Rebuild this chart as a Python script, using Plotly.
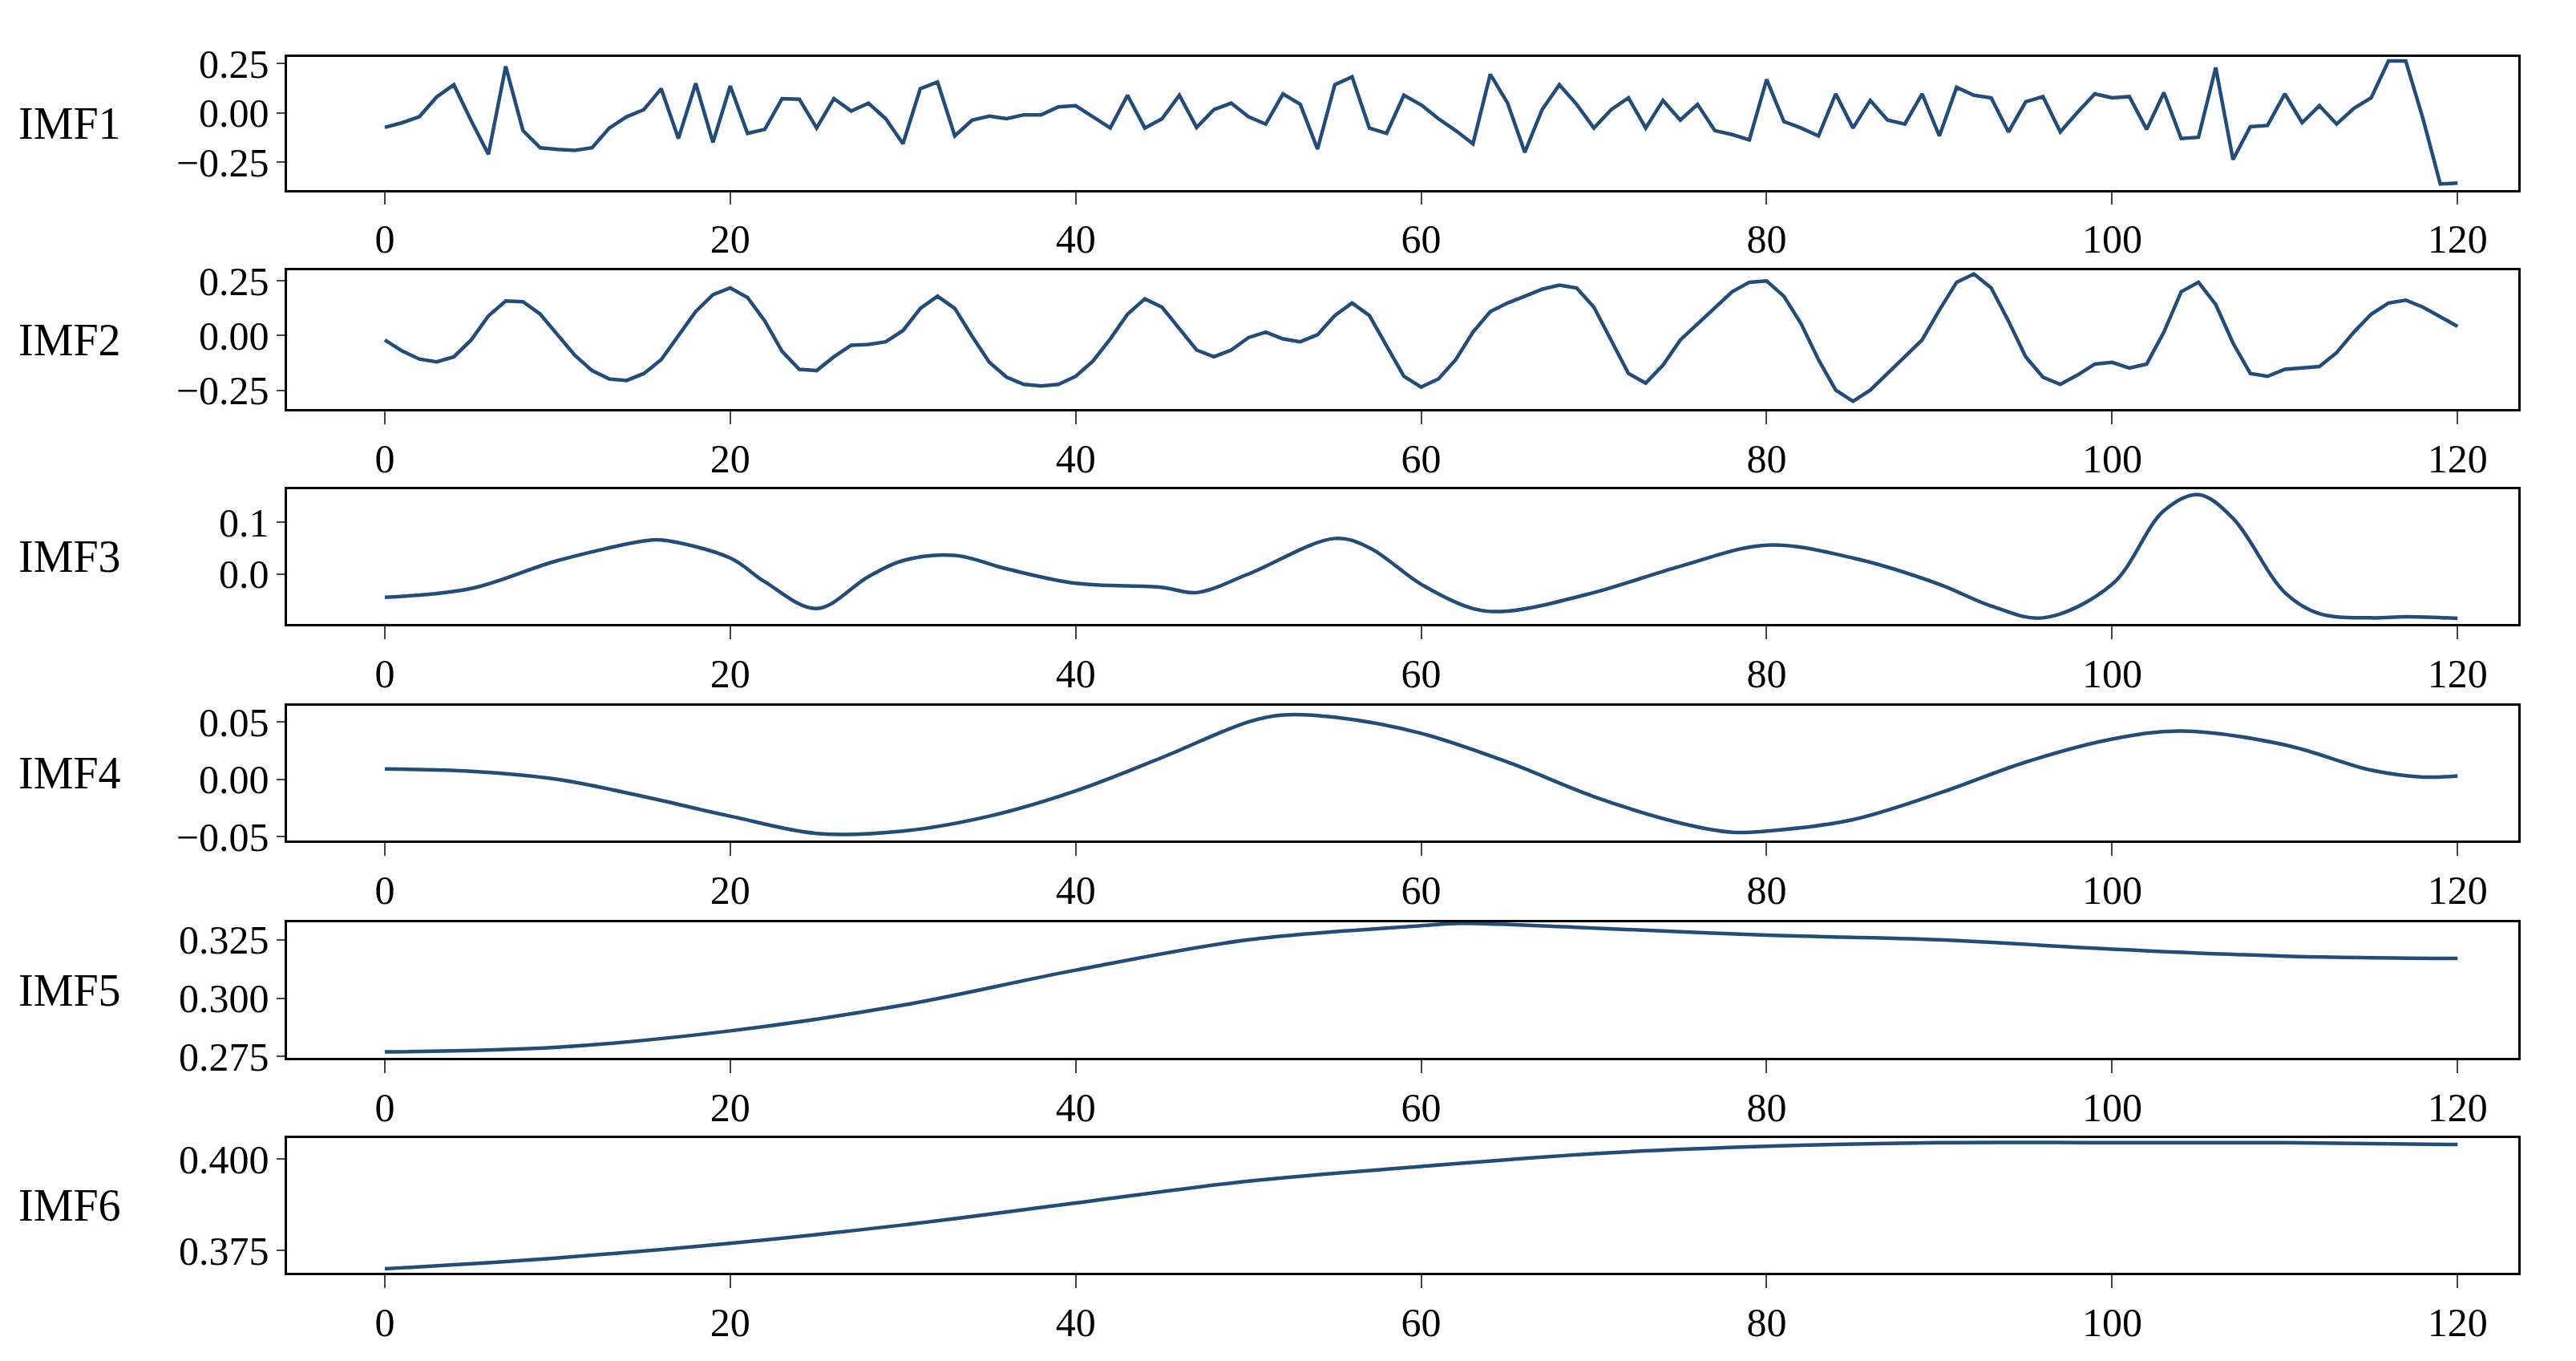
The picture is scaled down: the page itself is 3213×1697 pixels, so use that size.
import plotly.graph_objects as go

t = list(range(121))
imf1 = [-0.074,-0.05,-0.02,0.08,0.142,-0.04,-0.21,0.235,-0.09,-0.177,-0.185,-0.19,-0.177,-0.077,-0.02,0.016,0.122,-0.13,0.149,-0.15,
        0.136,-0.104,-0.084,0.072,0.069,-0.077,0.072,0.009,0.049,-0.03,-0.157,0.122,0.156,-0.117,-0.037,-0.017,-0.03,-0.01,-0.01,0.03,
        0.036,-0.02,-0.077,0.089,-0.077,-0.03,0.089,-0.074,0.016,0.049,-0.02,-0.057,0.096,0.043,-0.184,0.142,0.182,-0.077,-0.104,0.089,
        0.04,-0.03,-0.09,-0.157,0.195,0.05,-0.2,0.016,0.142,0.043,-0.077,0.016,0.076,-0.077,0.063,-0.037,0.043,-0.09,-0.11,-0.137,
        0.169,-0.044,-0.077,-0.117,0.096,-0.077,0.063,-0.037,-0.057,0.096,-0.117,0.129,0.089,0.076,-0.097,0.056,0.082,-0.097,0.003,0.096,
        0.076,0.082,-0.084,0.102,-0.13,-0.124,0.229,-0.237,-0.07,-0.064,0.096,-0.05,0.036,-0.057,0.023,0.076,0.262,0.262,-0.03,-0.36,-0.356]
imf2 = [-0.02,-0.07,-0.107,-0.12,-0.097,-0.02,0.09,0.158,0.155,0.098,0.004,-0.09,-0.16,-0.198,-0.205,-0.173,-0.11,-0.003,0.11,0.187,
        0.218,0.174,0.067,-0.072,-0.154,-0.16,-0.097,-0.044,-0.04,-0.028,0.023,0.124,0.18,0.124,-0.003,-0.122,-0.19,-0.223,-0.23,-0.223,
        -0.186,-0.116,-0.015,0.098,0.168,0.13,0.029,-0.066,-0.097,-0.066,-0.009,0.016,-0.015,-0.028,0.004,0.092,0.149,0.092,-0.047,-0.186,
        -0.235,-0.198,-0.11,0.016,0.11,0.149,0.18,0.212,0.231,0.218,0.13,-0.02,-0.173,-0.217,-0.135,-0.02,0.054,0.124,0.2,0.244,
        0.25,0.18,0.054,-0.11,-0.249,-0.3,-0.249,-0.173,-0.097,-0.02,0.117,0.244,0.282,0.218,0.067,-0.097,-0.19,-0.223,-0.18,-0.13,
        -0.122,-0.148,-0.13,0.016,0.2,0.244,0.142,-0.034,-0.173,-0.186,-0.154,-0.148,-0.141,-0.078,0.016,0.098,0.149,0.162,0.13,0.086,0.042]
t3 = [0,5,10,15,16,20,22,25,28,30,33,36,40,45,47,50,55,57,60,63,65,70,75,80,85,90,93,96,100,103,105,107,110,112,115,117,120]
imf3 = [-0.045,-0.028,0.026,0.064,0.066,0.031,-0.015,-0.067,-0.005,0.026,0.036,0.01,-0.018,-0.026,-0.036,0.0,0.069,0.051,-0.02,-0.067,
        -0.072,-0.036,0.015,0.056,0.031,-0.02,-0.062,-0.085,-0.02,0.123,0.154,0.108,-0.036,-0.077,-0.085,-0.083,-0.086]
t4 = [0,5,10,15,20,25,30,35,40,45,50,52,55,60,65,70,75,78,80,85,90,95,100,104,110,115,118,120]
imf4 = [0.009,0.007,0.0,-0.015,-0.032,-0.047,-0.045,-0.032,-0.01,0.019,0.05,0.056,0.054,0.04,0.015,-0.015,-0.038,-0.046,-0.045,-0.035,
        -0.012,0.015,0.035,0.042,0.03,0.008,0.002,0.003]
t5 = [0,10,20,30,40,50,60,62,70,80,90,100,110,120]
imf5 = [0.277,0.279,0.286,0.297,0.312,0.325,0.331,0.332,0.33,0.327,0.325,0.321,0.318,0.317]
t6 = [0,10,20,30,40,50,60,70,80,90,100,110,120]
imf6 = [0.370,0.373,0.377,0.382,0.388,0.394,0.398,0.4015,0.4035,0.4045,0.4045,0.4045,0.404]

names = ["IMF1","IMF2","IMF3","IMF4","IMF5","IMF6"]
series = [(t,imf1,'linear'),(t,imf2,'linear'),(t3,imf3,'spline'),(t4,imf4,'spline'),(t5,imf5,'spline'),(t6,imf6,'spline')]
yranges = [[-0.39,0.283],[-0.337,0.30],[-0.097,0.164],[-0.053,0.064],[0.2743,0.3326],[0.3689,0.4057]]
ytickvals = [[-0.25,0,0.25],[-0.25,0,0.25],[0.0,0.1],[-0.05,0,0.05],[0.275,0.3,0.325],[0.375,0.4]]
yticktext = [["\u22120.25","0.00","0.25"],["\u22120.25","0.00","0.25"],["0.0","0.1"],["\u22120.05","0.00","0.05"],["0.275","0.300","0.325"],["0.375","0.400"]]
xticks = [0,20,40,60,80,100,120]

H = 827.0
panels = [(22,105),(155,242),(292,376),(427,511),(562,647),(697,781)]
font = "Liberation Serif"
fig = go.Figure()
ann = []
for k in range(6):
    xa = "x" if k == 0 else f"x{k+1}"
    ya = "y" if k == 0 else f"y{k+1}"
    x, y, sh = series[k]
    fig.add_trace(go.Scatter(x=x, y=y, mode="lines", line=dict(color="#234d78", width=4.5, shape=sh),
                             xaxis=xa, yaxis=ya, showlegend=False))
    top, bot = panels[k]
    d0, d1 = 1 - bot / H, 1 - top / H
    ax = dict(range=[-5.65, 123.5], tickvals=xticks, ticks="outside", ticklen=16, tickwidth=2,
              showline=True, mirror=True, linecolor="black", linewidth=2.5, showgrid=False, zeroline=False,
              domain=[0.109, 0.975], anchor=ya, tickfont=dict(family=font, size=50, color="black"))
    ay = dict(range=yranges[k], tickvals=ytickvals[k], ticktext=yticktext[k], ticks="outside", ticklen=10, tickwidth=2,
              showline=True, mirror=True, linecolor="black", linewidth=2.5, showgrid=False, zeroline=False,
              domain=[d0, d1], anchor=xa, tickfont=dict(family=font, size=50, color="black"))
    fig.update_layout(**{("xaxis" if k == 0 else f"xaxis{k+1}"): ax, ("yaxis" if k == 0 else f"yaxis{k+1}"): ay})
    ann.append(dict(text=names[k], x=0.004, y=(d0 + d1) / 2, xref="paper", yref="paper", showarrow=False,
                    xanchor="left", yanchor="middle", font=dict(family=font, size=56, color="black")))
fig.update_layout(annotations=ann, width=3213, height=1697, paper_bgcolor="white", plot_bgcolor="white",
                  margin=dict(l=0, r=0, t=0, b=0))
fig.write_html("out.html")
